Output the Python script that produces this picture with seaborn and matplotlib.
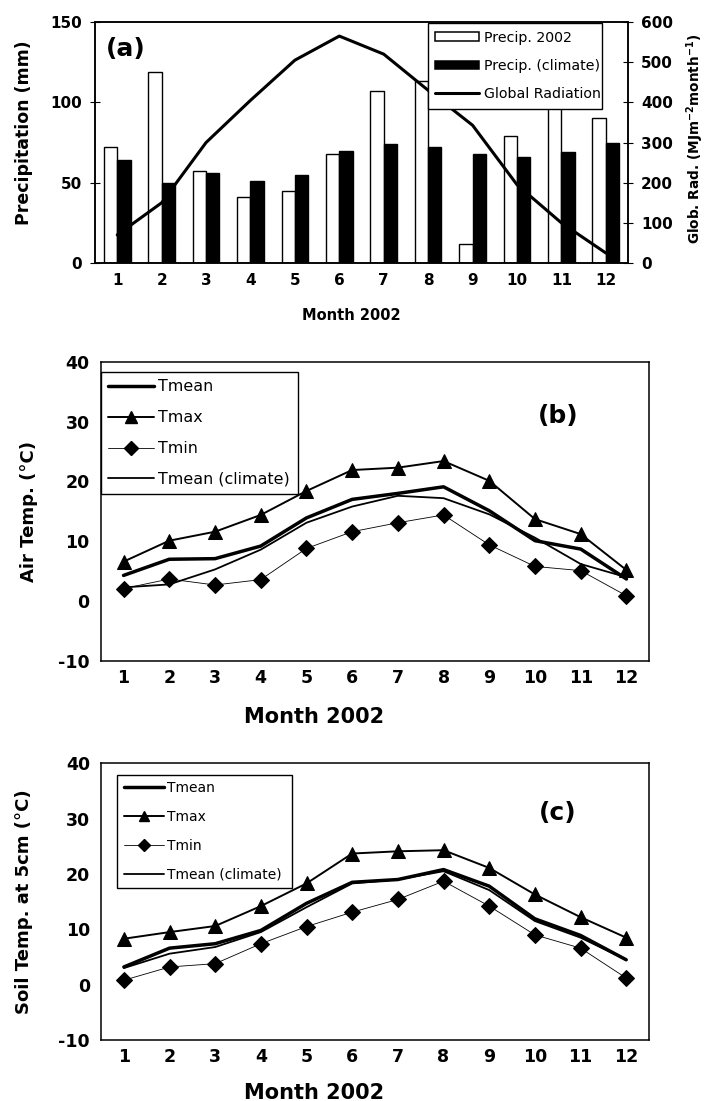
import numpy as np
import pandas as pd
import matplotlib
matplotlib.use("Agg")
import matplotlib.pyplot as plt
import seaborn as sns
from matplotlib.patches import Patch
from matplotlib.lines import Line2D

# ---------------- data ----------------
months = [str(i) for i in range(1, 13)]
month_num = list(range(1, 13))

precip_2002 = [72, 119, 57, 41, 45, 68, 107, 113, 12, 79, 100, 90]
precip_climate = [64, 50, 56, 51, 55, 70, 74, 72, 68, 66, 69, 75]
global_rad = [70, 150, 300, 405, 505, 565, 520, 430, 343, 195, 100, 25]

air_tmean = [4.3, 7.0, 7.1, 9.2, 13.9, 17.0, 18.0, 19.1, 15.1, 10.1, 8.7, 3.7]
air_tmax = [6.6, 10.1, 11.6, 14.4, 18.4, 21.9, 22.3, 23.4, 20.1, 13.7, 11.2, 5.2]
air_tmin = [2.1, 3.7, 2.7, 3.6, 8.8, 11.6, 13.1, 14.4, 9.4, 5.8, 5.1, 0.9]
air_tclim = [2.3, 2.8, 5.3, 8.6, 13.1, 15.8, 17.6, 17.2, 14.5, 10.6, 6.2, 4.0]

soil_tmean = [3.2, 6.6, 7.4, 9.8, 14.7, 18.5, 19.0, 20.8, 17.8, 11.9, 8.9, 4.5]
soil_tmax = [8.3, 9.5, 10.6, 14.2, 18.3, 23.7, 24.1, 24.3, 21.1, 16.3, 12.2, 8.5]
soil_tmin = [0.8, 3.2, 3.8, 7.4, 10.5, 13.1, 15.4, 18.7, 14.2, 9.0, 6.6, 1.2]
soil_tclim = [3.0, 5.6, 6.8, 9.5, 14.0, 18.3, 19.0, 20.5, 17.1, 11.5, 8.5, 4.5]

# ---------------- style ----------------
sns.set_style("white")
plt.rcParams["font.family"] = ["DejaVu Sans"]
plt.rcParams["axes.unicode_minus"] = False
plt.rcParams["axes.edgecolor"] = "black"
plt.rcParams["axes.linewidth"] = 1.1
plt.rcParams["xtick.color"] = "black"
plt.rcParams["ytick.color"] = "black"
plt.rcParams["text.color"] = "black"
plt.rcParams["axes.labelcolor"] = "black"
plt.rcParams["xtick.labelcolor"] = "black"
plt.rcParams["ytick.labelcolor"] = "black"

fig = plt.figure(figsize=(7.07, 11.01), dpi=100)

axA = fig.add_axes([0.1344, 0.7611, 0.7539, 0.2189])
axB = fig.add_axes([0.1424, 0.3996, 0.7760, 0.2719])
axC = fig.add_axes([0.1429, 0.0554, 0.7751, 0.2513])


def bold_ticks(ax):
    for t in ax.get_xticklabels() + ax.get_yticklabels():
        t.set_fontweight("bold")
        t.set_color("black")


# ---------------- panel (a) ----------------
df_p = pd.DataFrame({
    "month": months * 2,
    "precip": precip_2002 + precip_climate,
    "series": ["Precip. 2002"] * 12 + ["Precip. (climate)"] * 12,
})
sns.barplot(data=df_p, x="month", y="precip", hue="series",
            palette=["white", "black"], edgecolor="black", linewidth=1.0,
            width=0.6, saturation=1, ax=axA, legend=False)
axA.set_ylim(0, 150)
axA.set_yticks([0, 50, 100, 150])
axA.set_xlim(-0.5, 11.5)
axA.set_xticks(range(12))
axA.set_xticklabels(months)
axA.set_xticks(np.arange(-0.5, 12, 1.0), minor=True)
axA.tick_params(axis="x", which="major", length=0, labelsize=11, pad=7)
axA.tick_params(axis="x", which="minor", direction="inout", length=7, width=0.8)
axA.tick_params(axis="y", direction="inout", length=7, width=0.8, labelsize=11, pad=6)
axA.set_ylabel("Precipitation (mm)", fontsize=12.5, fontweight="bold")
axA.yaxis.set_label_coords(-0.116, 0.54)
axA.set_xlabel("Month 2002", fontsize=10.5, fontweight="bold")
axA.xaxis.set_label_coords(0.4816, -0.187)
bold_ticks(axA)

axA2 = axA.twinx()
sns.lineplot(x=np.arange(12), y=global_rad, ax=axA2, color="black", lw=2.2)
axA2.set_ylim(0, 600)
axA2.set_yticks([0, 100, 200, 300, 400, 500, 600])
axA2.tick_params(axis="y", direction="inout", length=7, width=0.8, labelsize=11, pad=6)
axA2.set_ylabel("Glob. Rad. (MJm$^{\\mathbf{-2}}$month$^{\\mathbf{-1}}$)",
                fontsize=9.8, fontweight="bold")
axA2.yaxis.set_label_coords(1.106, 0.515)
for t in axA2.get_yticklabels():
    t.set_fontweight("bold")
    t.set_color("black")
for sp in axA2.spines.values():
    sp.set_color("black")
    sp.set_linewidth(1.1)

axA.text(0.058, 0.89, "(a)", transform=axA.transAxes, fontsize=18,
         fontweight="bold", ha="center", va="center")

hA = [Patch(facecolor="white", edgecolor="black", linewidth=1.1, label="Precip. 2002"),
      Patch(facecolor="black", edgecolor="black", linewidth=1.1, label="Precip. (climate)"),
      Line2D([], [], color="black", lw=2.2, label="Global Radiation")]
legA = axA2.legend(handles=hA, loc="upper left", bbox_to_anchor=(0.624, 0.0, 0.327, 0.997),
                   mode="expand", borderaxespad=0, fontsize=10.2, fancybox=False,
                   framealpha=1, edgecolor="black", handlelength=3.1, handleheight=0.5,
                   handletextpad=0.3, labelspacing=1.0, borderpad=0.55)
legA.get_frame().set_linewidth(1.0)


# ---------------- panels (b) and (c) ----------------
def temp_panel(ax, tmean, tmax, tmin, tclim, ylabel, tag, leg_bbox, leg_fs, mscale,
               ylab_x, lspace):
    sns.lineplot(x=month_num, y=tclim, ax=ax, color="black", lw=1.3)
    sns.lineplot(x=month_num, y=tmin, ax=ax, color="black", lw=0.6,
                 marker="D", markersize=8.5, markeredgecolor="black",
                 markerfacecolor="black")
    sns.lineplot(x=month_num, y=tmax, ax=ax, color="black", lw=1.4,
                 marker="^", markersize=10.5, markeredgecolor="black",
                 markerfacecolor="black")
    sns.lineplot(x=month_num, y=tmean, ax=ax, color="black", lw=2.5)
    ax.set_ylim(-10, 40)
    ax.set_yticks([-10, 0, 10, 20, 30, 40])
    ax.set_xlim(0.5, 12.5)
    ax.set_xticks(month_num)
    ax.set_xticklabels(months)
    ax.set_xticks(np.arange(1.5, 12.0, 1.0), minor=True)
    ax.tick_params(axis="x", which="major", length=0, labelsize=12.5, pad=6)
    ax.tick_params(axis="x", which="minor", direction="in", length=6, width=0.8)
    ax.tick_params(axis="y", direction="out", length=5, width=0.8, labelsize=12.5, pad=3)
    for sp in ax.spines.values():
        sp.set_visible(True)
        sp.set_color("black")
        sp.set_linewidth(1.1)
    ax.set_ylabel(ylabel, fontsize=13, fontweight="bold")
    ax.yaxis.set_label_coords(ylab_x, 0.5)
    ax.set_xlabel("Month 2002", fontsize=15, fontweight="bold")
    bold_ticks(ax)
    ax.text(0.834, 0.82, tag, transform=ax.transAxes, fontsize=18,
            fontweight="bold", ha="center", va="center")
    handles = [Line2D([], [], color="black", lw=2.5, label="Tmean"),
               Line2D([], [], color="black", lw=1.4, marker="^", markersize=10.5 * mscale,
                      label="Tmax"),
               Line2D([], [], color="black", lw=0.6, marker="D", markersize=8.5 * mscale,
                      label="Tmin"),
               Line2D([], [], color="black", lw=1.3, label="Tmean (climate)")]
    leg = ax.legend(handles=handles, loc="upper left", bbox_to_anchor=leg_bbox,
                    mode="expand", borderaxespad=0, fontsize=leg_fs, fancybox=False,
                    framealpha=1, edgecolor="black", handlelength=2.9,
                    handletextpad=0.25, labelspacing=lspace, borderpad=0.45,
                    numpoints=1)
    leg.get_frame().set_linewidth(1.0)


temp_panel(axB, air_tmean, air_tmax, air_tmin, air_tclim, "Air Temp. (°C)", "(b)",
           (0.0, 0.0, 0.360, 0.9646), 11.4, 0.85, -0.114, 1.0)
axB.xaxis.set_label_coords(0.389, -0.154)

temp_panel(axC, soil_tmean, soil_tmax, soil_tmin, soil_tclim, "Soil Temp. at 5cm (°C)",
           "(c)", (0.0297, 0.0, 0.318, 0.9577), 10.0, 0.7, -0.124, 1.06)
axC.xaxis.set_label_coords(0.388, -0.155)

fig.savefig("out.png", dpi=100)
